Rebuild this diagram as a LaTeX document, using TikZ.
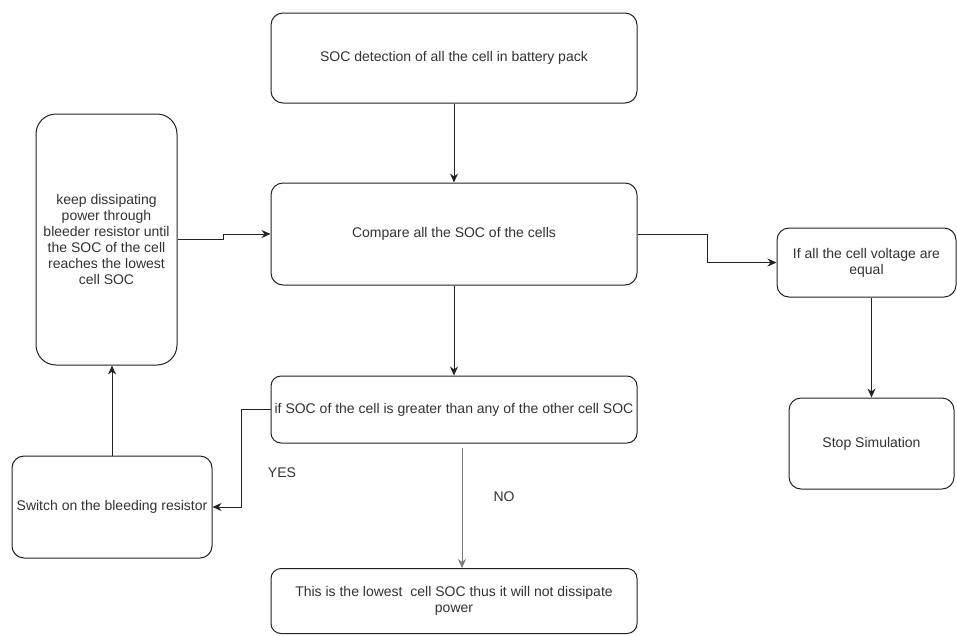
\documentclass[tikz,border=0pt]{standalone}
\usepackage{fontspec}
\setmainfont{Liberation Sans}
\usetikzlibrary{arrows.meta,positioning}
\definecolor{txt}{HTML}{333333}
\definecolor{ln}{HTML}{222222}
\definecolor{gl}{HTML}{7A7A7A}
\tikzset{
  box/.style={draw=ln, line width=1pt, rounded corners=#1, align=center, inner sep=0pt,
    text=txt, font=\fontsize{14}{16}\selectfont},
  box/.default=12pt,
  arr/.style={draw=ln, line width=1pt, -{Stealth[length=9pt,width=8pt]}},
  lbl/.style={text=txt, font=\fontsize{14}{16}\selectfont, inner sep=0pt}
}
\begin{document}
\begin{tikzpicture}[x=1pt,y=-1pt]
\useasboundingbox (0,0) rectangle (957,635);
\fill[white] (0,0) rectangle (957,635);

\node[box, minimum width=366pt, minimum height=90pt] (b1) at (454,58) {SOC detection of all the cell in battery pack};
\node[box, minimum width=366pt, minimum height=102pt] (b2) at (454,234) {Compare all the SOC of the cells};
\node[box=20pt, minimum width=141pt, minimum height=251pt] (keep) at (106.5,239.5)
  {keep dissipating\\power through\\bleeder resistor until\\the SOC of the cell\\reaches the lowest\\cell SOC};
\node[box, minimum width=179pt, minimum height=69pt] (b4) at (866.5,262.5) {If all the cell voltage are\\equal};
\node[box, minimum width=165pt, minimum height=91pt] (stop) at (871.5,443.5) {Stop Simulation};
\node[box=10pt, minimum width=366pt, minimum height=67pt] (b6) at (454,409.5) {if SOC of the cell is greater than any of the other cell SOC};
\node[box, minimum width=200pt, minimum height=102pt] (sw) at (112,507) {Switch on the bleeding resistor};
\node[box=10pt, minimum width=366pt, minimum height=65pt] (b8) at (454,601) {This is the lowest\ \ cell SOC thus it will not dissipate\\power};

\node[lbl] (yes) at (282,473) {YES};
\node[lbl] (no) at (504,497) {NO};

\draw[arr] (b1.south) -- (b2.north);
\draw[arr] (keep.east) -- ++(46,0) |- (b2.west);
\draw[arr] (b2.east) -- ++(70,0) |- (b4.west);
\draw[arr] (stop.north |- b4.south) -- (stop.north);
\draw[arr] (b2.south) -- (b6.north);
\draw[arr] (b6.west) -- ++(-29,0) |- (sw.east);
\draw[arr] (sw.north) -- (sw.north |- keep.south);
\coordinate (nostart) at (462,448);
\draw[arr, draw=gl] (nostart) -- (nostart |- b8.north);
\end{tikzpicture}
\end{document}
